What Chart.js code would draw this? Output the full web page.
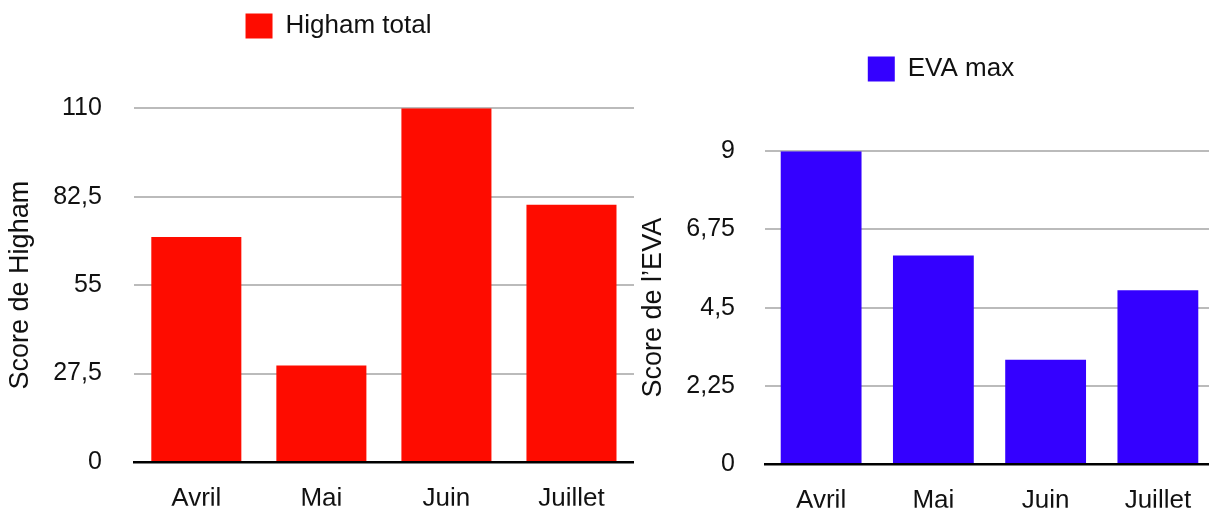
<!DOCTYPE html>
<html lang="fr">
<head>
<meta charset="utf-8">
<title>Higham / EVA</title>
<script src="https://cdn.jsdelivr.net/npm/chart.js@4"></script>
<style>
  html, body { margin: 0; padding: 0; background: #fff; overflow: hidden; }
  body { width: 1209px; height: 509px; position: relative; }
  canvas { position: absolute; top: 0; }
  #higham { left: 0; }
  #eva { left: 640px; }
</style>
</head>
<body>
<canvas id="higham" width="634" height="509"></canvas>
<canvas id="eva" width="574" height="509"></canvas>
<script>
const months = ['Avril', 'Mai', 'Juin', 'Juillet'];
const highamTotal = [70, 30, 110, 80];
const evaMax = [9, 6, 3, 5];
const highamTicks = [0, 27.5, 55, 82.5, 110];
const evaTicks = [0, 2.25, 4.5, 6.75, 9];

Chart.defaults.font.family = '"Liberation Sans", Helvetica, Arial, sans-serif';
Chart.defaults.color = '#111';

const CANVAS_H = 509;
const PLOT_BOTTOM = 465.3;
const LEGEND_FONT = 26;

// one bar chart per canvas, same look for both
function barChart(id, o) {
    // legend height = padding + item height + 10 (Chart.js), the empty
    // title below it fills the rest down to the top gridline
    const legendHeight = o.legendPad + LEGEND_FONT + 10;
    const spacer = o.plotTop - legendHeight;

    return new Chart(document.getElementById(id), {
        type: 'bar',
        data: {
            labels: months,
            datasets: [{
                label: o.label,
                data: o.data,
                backgroundColor: o.color,
                borderWidth: 0,
                barPercentage: 0.9,
                categoryPercentage: 0.8,
            }],
        },
        options: {
            responsive: false,
            animation: false,
            layout: { padding: { left: o.padLeft, right: 0, top: 0, bottom: 0 } },
            plugins: {
                tooltip: { enabled: false },
                legend: {
                    position: 'top',
                    weight: 1000,
                    labels: {
                        boxWidth: 27,
                        boxHeight: 25,
                        padding: o.legendPad,
                        font: { size: LEGEND_FONT },
                        color: '#111',
                    },
                },
                title: {
                    display: true,
                    text: '',
                    position: 'top',
                    weight: 500,
                    font: { size: 1, lineHeight: 1 },
                    padding: { top: spacer - 1, bottom: 0 },
                },
            },
            scales: {
                x: {
                    grid: { display: false, drawTicks: false },
                    border: { display: true, color: '#000', width: 2.5, z: 1 },
                    ticks: { padding: 21, font: { size: 26 } },
                    afterFit: s => { s.height = CANVAS_H - PLOT_BOTTOM; },
                },
                y: {
                    min: 0,
                    max: o.ticks[o.ticks.length - 1],
                    afterBuildTicks: s => { s.ticks = o.ticks.map(v => ({ value: v })); },
                    ticks: {
                        padding: o.tickPad,
                        font: { size: 25 },
                        callback: v => String(v).replace('.', ','),
                    },
                    grid: {
                        drawTicks: false,
                        lineWidth: 2,
                        color: c => c.tick && c.tick.value === 0 ? 'rgba(0,0,0,0)' : '#bbbbbb',
                    },
                    border: { display: false },
                    title: {
                        display: true,
                        text: o.axisTitle,
                        font: { size: 27 },
                        color: '#111',
                        padding: { top: o.titlePad, bottom: 0 },
                    },
                    afterFit: s => { s.width = o.axisWidth; },
                },
            },
        },
    });
}

barChart('higham', {
    label: 'Higham total',
    data: highamTotal,
    color: 'rgb(254, 12, 0)',
    ticks: highamTicks,
    axisTitle: 'Score de Higham',
    padLeft: 43,
    axisWidth: 90.8,
    plotTop: 108.3,
    tickPad: 32,
    titlePad: -38.2,
    legendPad: 13,
});

barChart('eva', {
    label: 'EVA max',
    data: evaMax,
    color: 'rgb(52, 0, 255)',
    ticks: evaTicks,
    axisTitle: 'Score de l’EVA',
    padLeft: 28,
    axisWidth: 97,
    plotTop: 151.3,
    tickPad: 30,
    titlePad: -30.9,
    legendPad: 56,
});
</script>
</body>
</html>
